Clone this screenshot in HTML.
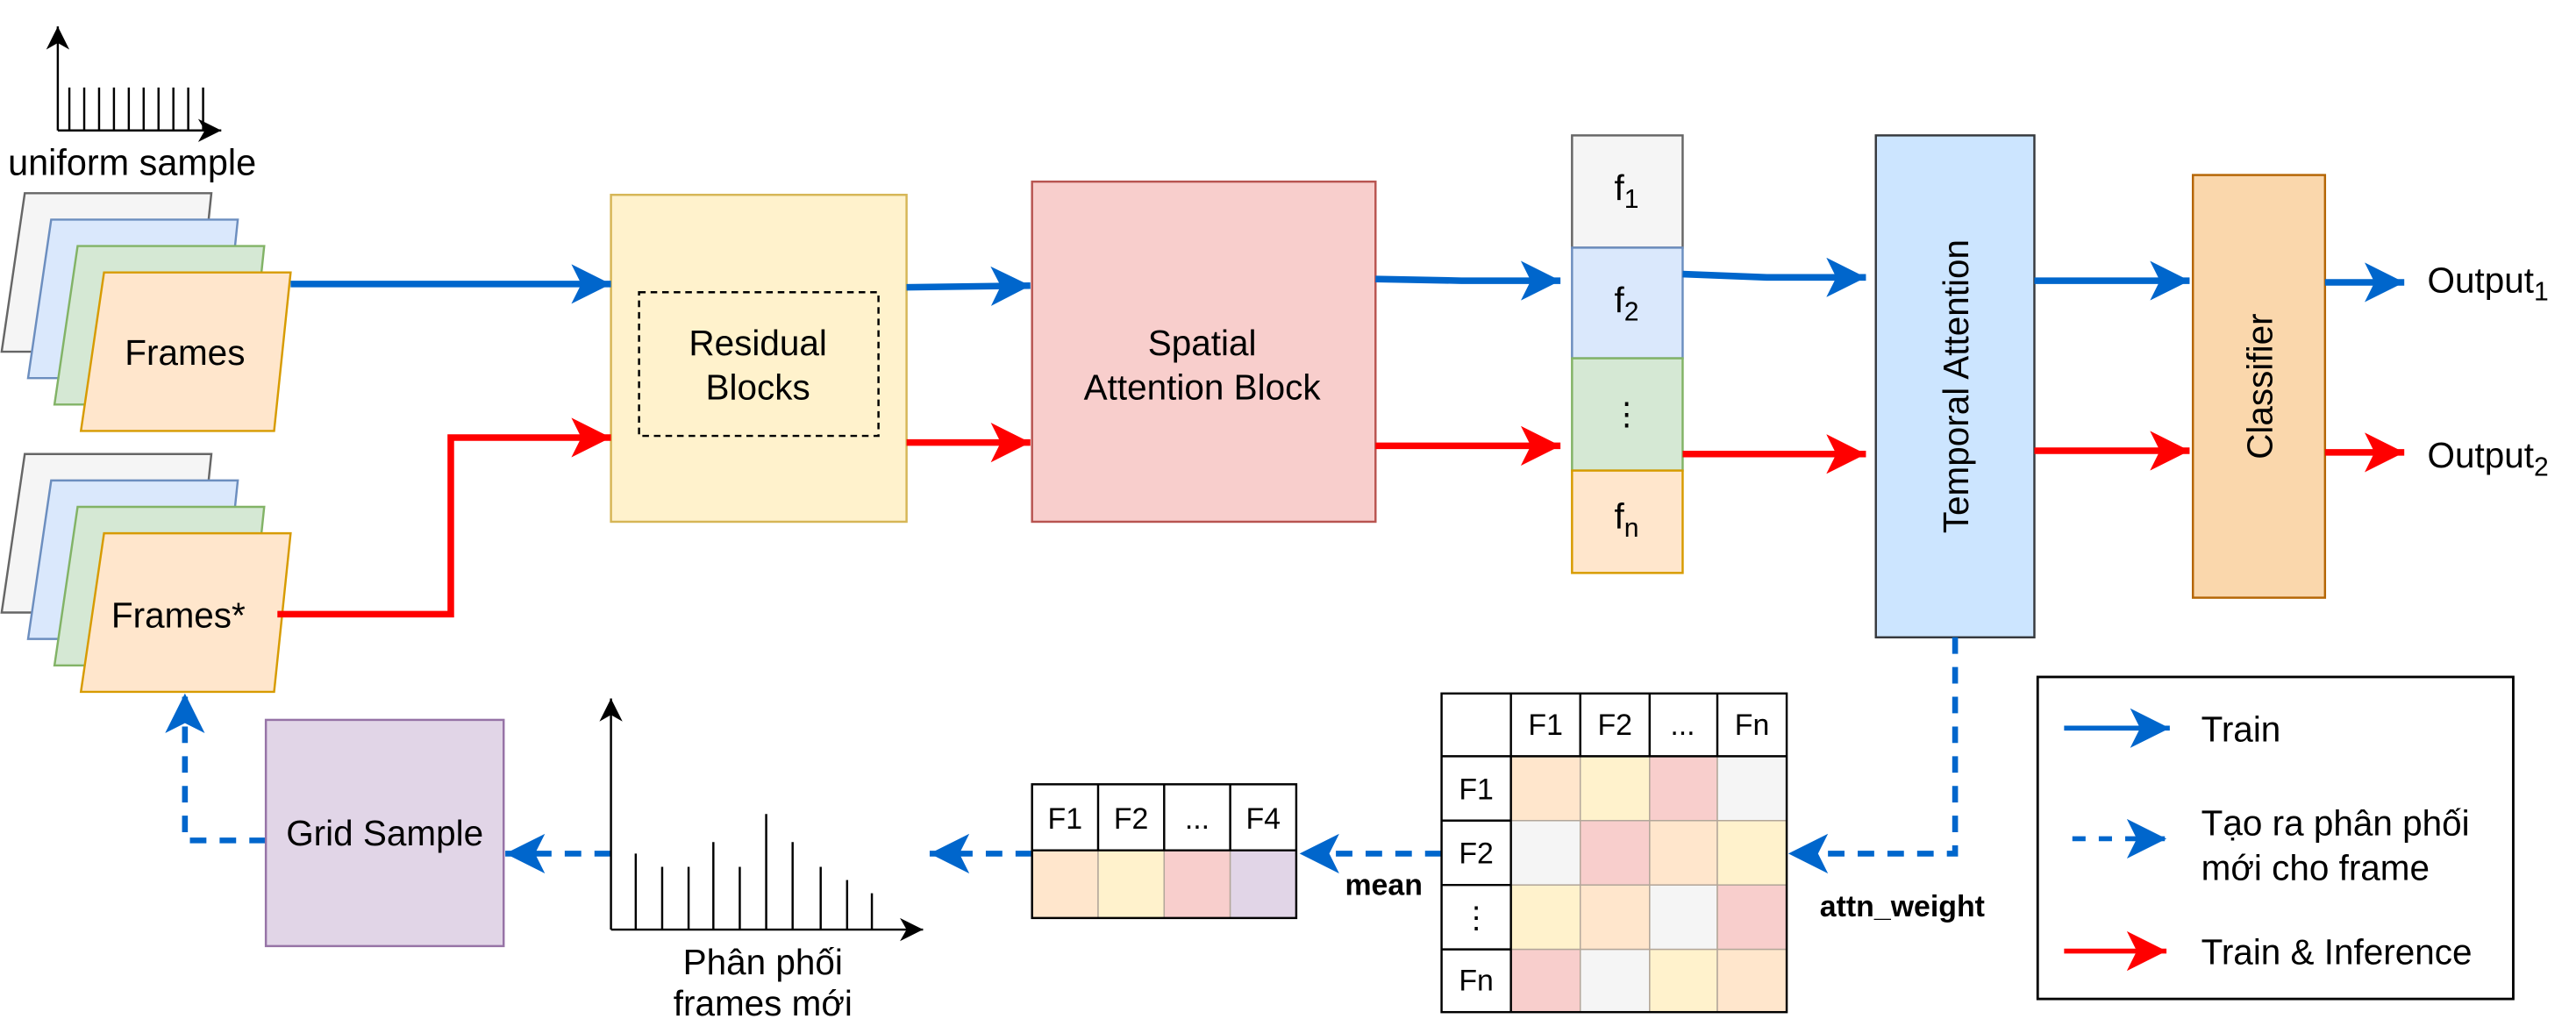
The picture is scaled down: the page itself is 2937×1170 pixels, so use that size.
<!DOCTYPE html>
<html><head><meta charset="utf-8"><style>
html,body{margin:0;padding:0;background:#fff;width:2937px;height:1170px;overflow:hidden}
svg{display:block}
text{font-family:"Liberation Sans","Noto Sans CJK SC",sans-serif;fill:#000}
</style></head><body>
<svg width="2937" height="1170" viewBox="0 0 1560 621.4" preserveAspectRatio="none" xmlns="http://www.w3.org/2000/svg">
<defs>
<marker id="ab" markerUnits="userSpaceOnUse" markerWidth="30" markerHeight="30" refX="24" refY="12" orient="auto"><path d="M0,0 L24,12 L0,24 L6,12 Z" fill="#0066cc"/></marker>
<marker id="ar" markerUnits="userSpaceOnUse" markerWidth="30" markerHeight="30" refX="24" refY="12" orient="auto"><path d="M0,0 L24,12 L0,24 L6,12 Z" fill="#ff0000"/></marker>
<marker id="ak" markerUnits="userSpaceOnUse" markerWidth="20" markerHeight="20" refX="14" refY="7" orient="auto"><path d="M0,0 L14,7 L0,14 L4,7 Z" fill="#000"/></marker>
</defs>

<g stroke="#000" stroke-width="1.3">
<line x1="35" y1="79" x2="35" y2="16" marker-end="url(#ak)"/>
<line x1="35" y1="79" x2="134" y2="79" marker-end="url(#ak)"/>
<line x1="42" y1="53" x2="42" y2="79"/><line x1="51" y1="53" x2="51" y2="79"/><line x1="60" y1="53" x2="60" y2="79"/><line x1="69" y1="53" x2="69" y2="79"/><line x1="78" y1="53" x2="78" y2="79"/><line x1="87" y1="53" x2="87" y2="79"/><line x1="96" y1="53" x2="96" y2="79"/><line x1="105" y1="53" x2="105" y2="79"/><line x1="114" y1="53" x2="114" y2="79"/><line x1="123" y1="53" x2="123" y2="79"/>
</g>
<text x="80" y="106" font-size="22" text-anchor="middle">uniform sample</text>

<g stroke-width="1.3">
<polygon points="15,117 128,117 118,213 1,213" fill="#f5f5f5" stroke="#666"/>
<polygon points="31,133 144,133 134,229 17,229" fill="#dae8fc" stroke="#6c8ebf"/>
<polygon points="47,149 160,149 150,245 33,245" fill="#d5e8d4" stroke="#82b366"/>
<polygon points="63,165 176,165 166,261 49,261" fill="#ffe6cc" stroke="#d79b00"/>
<polygon points="15,275 128,275 118,371 1,371" fill="#f5f5f5" stroke="#666"/>
<polygon points="31,291 144,291 134,387 17,387" fill="#dae8fc" stroke="#6c8ebf"/>
<polygon points="47,307 160,307 150,403 33,403" fill="#d5e8d4" stroke="#82b366"/>
<polygon points="63,323 176,323 166,419 49,419" fill="#ffe6cc" stroke="#d79b00"/>
</g>
<text x="112" y="221" font-size="21.5" text-anchor="middle">Frames</text>
<text x="108" y="380" font-size="21.5" text-anchor="middle">Frames*</text>

<rect x="370" y="118" width="179" height="198" fill="#fff2cc" stroke="#d6b656" stroke-width="1.3"/>
<rect x="387" y="177" width="145" height="87" fill="none" stroke="#000" stroke-width="1.3" stroke-dasharray="4,3"/>
<text x="459" y="215" font-size="21.5" text-anchor="middle">Residual</text>
<text x="459" y="242" font-size="21.5" text-anchor="middle">Blocks</text>

<rect x="625" y="110" width="208" height="206" fill="#f8cecc" stroke="#b85450" stroke-width="1.3"/>
<text x="728" y="215" font-size="21.5" text-anchor="middle">Spatial</text>
<text x="728" y="242" font-size="21.5" text-anchor="middle">Attention Block</text>

<g stroke-width="1.3">
<rect x="952" y="82" width="67" height="68" fill="#f5f5f5" stroke="#666"/>
<rect x="952" y="150" width="67" height="67" fill="#dae8fc" stroke="#6c8ebf"/>
<rect x="952" y="217" width="67" height="68" fill="#d5e8d4" stroke="#82b366"/>
<rect x="952" y="285" width="67" height="62" fill="#ffe6cc" stroke="#d79b00"/>
</g>
<text x="985" y="121" font-size="21.5" text-anchor="middle" fill="#333">f<tspan font-size="16" dy="5">1</tspan></text>
<text x="985" y="189" font-size="21.5" text-anchor="middle">f<tspan font-size="16" dy="5">2</tspan></text>
<text x="985" y="257" font-size="19" text-anchor="middle">⋮</text>
<text x="985" y="320" font-size="21.5" text-anchor="middle">f<tspan font-size="16" dy="5">n</tspan></text>

<rect x="1136" y="82" width="96" height="304" fill="#cce5ff" stroke="#36393d" stroke-width="1.3"/>
<text transform="translate(1192,234) rotate(-90)" font-size="21.5" text-anchor="middle">Temporal Attention</text>

<rect x="1328" y="106" width="80" height="256" fill="#fad7ac" stroke="#b46504" stroke-width="1.3"/>
<text transform="translate(1376,234) rotate(-90)" font-size="21.5" text-anchor="middle">Classifier</text>

<text x="1470" y="177" font-size="21.5">Output<tspan font-size="16" dy="5">1</tspan></text>
<text x="1470" y="283" font-size="21.5">Output<tspan font-size="16" dy="5">2</tspan></text>

<g fill="none" stroke-width="4">
<line x1="176" y1="172" x2="370" y2="172" stroke="#0066cc" marker-end="url(#ab)"/>
<polyline points="168,372 273,372 273,265 370,265" stroke="#ff0000" marker-end="url(#ar)"/>
<line x1="549" y1="174" x2="624" y2="173" stroke="#0066cc" marker-end="url(#ab)"/>
<line x1="549" y1="268" x2="624" y2="268" stroke="#ff0000" marker-end="url(#ar)"/>
<polyline points="833,169 885,170 945,170" stroke="#0066cc" marker-end="url(#ab)"/>
<line x1="833" y1="270" x2="945" y2="270" stroke="#ff0000" marker-end="url(#ar)"/>
<polyline points="1019,166 1070,168 1130,168" stroke="#0066cc" marker-end="url(#ab)"/>
<line x1="1019" y1="275" x2="1130" y2="275" stroke="#ff0000" marker-end="url(#ar)"/>
<line x1="1232" y1="170" x2="1326" y2="170" stroke="#0066cc" marker-end="url(#ab)"/>
<line x1="1232" y1="273" x2="1326" y2="273" stroke="#ff0000" marker-end="url(#ar)"/>
<line x1="1408" y1="171" x2="1456" y2="171" stroke="#0066cc" marker-end="url(#ab)"/>
<line x1="1408" y1="274" x2="1456" y2="274" stroke="#ff0000" marker-end="url(#ar)"/>
</g>

<g fill="none" stroke="#0066cc" stroke-width="3.5" stroke-dasharray="10,8">
<polyline points="1184,386 1184,517 1083,517" marker-end="url(#ab)"/>
<line x1="873" y1="517" x2="787" y2="517" marker-end="url(#ab)"/>
<line x1="625" y1="517" x2="563" y2="517" marker-end="url(#ab)"/>
<line x1="370" y1="517" x2="306" y2="517" marker-end="url(#ab)"/>
<polyline points="161,509 112,509 112,420" marker-end="url(#ab)"/>
</g>

<text x="1152" y="555" font-size="18" font-weight="bold" text-anchor="middle">attn_weight</text>
<text x="838" y="542" font-size="18" font-weight="bold" text-anchor="middle">mean</text>

<g stroke="#b3a79a" stroke-width="0.8">
<rect x="915" y="458" width="42" height="39" fill="#ffe6cc"/><rect x="957" y="458" width="42" height="39" fill="#fff2cc"/><rect x="999" y="458" width="41" height="39" fill="#f8cecc"/><rect x="1040" y="458" width="42" height="39" fill="#f5f5f5"/>
<rect x="915" y="497" width="42" height="39" fill="#f5f5f5"/><rect x="957" y="497" width="42" height="39" fill="#f8cecc"/><rect x="999" y="497" width="41" height="39" fill="#ffe6cc"/><rect x="1040" y="497" width="42" height="39" fill="#fff2cc"/>
<rect x="915" y="536" width="42" height="39" fill="#fff2cc"/><rect x="957" y="536" width="42" height="39" fill="#ffe6cc"/><rect x="999" y="536" width="41" height="39" fill="#f5f5f5"/><rect x="1040" y="536" width="42" height="39" fill="#f8cecc"/>
<rect x="915" y="575" width="42" height="38" fill="#f8cecc"/><rect x="957" y="575" width="42" height="38" fill="#f5f5f5"/><rect x="999" y="575" width="41" height="38" fill="#fff2cc"/><rect x="1040" y="575" width="42" height="38" fill="#ffe6cc"/>
</g>
<g stroke="#000" stroke-width="1.3" fill="none">
<rect x="873" y="420" width="209" height="193"/>
<line x1="915" y1="420" x2="915" y2="613"/>
<line x1="957" y1="420" x2="957" y2="458"/><line x1="999" y1="420" x2="999" y2="458"/><line x1="1040" y1="420" x2="1040" y2="458"/>
<line x1="873" y1="458" x2="1082" y2="458"/>
<line x1="873" y1="497" x2="915" y2="497"/><line x1="873" y1="536" x2="915" y2="536"/><line x1="873" y1="575" x2="915" y2="575"/>
</g>
<g font-size="18" text-anchor="middle">
<text x="936" y="445">F1</text><text x="978" y="445">F2</text><text x="1019" y="445">...</text><text x="1061" y="445">Fn</text>
<text x="894" y="484">F1</text><text x="894" y="523">F2</text><text x="894" y="562">⋮</text><text x="894" y="600">Fn</text>
</g>

<g stroke="#b3a79a" stroke-width="0.8">
<rect x="625" y="515" width="40" height="41" fill="#ffe6cc"/><rect x="665" y="515" width="40" height="41" fill="#fff2cc"/><rect x="705" y="515" width="40" height="41" fill="#f8cecc"/><rect x="745" y="515" width="40" height="41" fill="#e1d5e7"/>
</g>
<g stroke="#000" stroke-width="1.3" fill="none">
<rect x="625" y="475" width="160" height="81"/>
<line x1="625" y1="515" x2="785" y2="515"/>
<line x1="665" y1="475" x2="665" y2="515"/><line x1="705" y1="475" x2="705" y2="515"/><line x1="745" y1="475" x2="745" y2="515"/>
</g>
<g font-size="18" text-anchor="middle">
<text x="645" y="502">F1</text><text x="685" y="502">F2</text><text x="725" y="502">...</text><text x="765" y="502">F4</text>
</g>

<g stroke="#000" stroke-width="1.3">
<line x1="370" y1="563" x2="370" y2="423" marker-end="url(#ak)"/>
<line x1="370" y1="563" x2="559" y2="563" marker-end="url(#ak)"/>
<line x1="385" y1="517" x2="385" y2="563"/><line x1="401" y1="525" x2="401" y2="563"/><line x1="417" y1="525" x2="417" y2="563"/><line x1="432" y1="510" x2="432" y2="563"/><line x1="448" y1="525" x2="448" y2="563"/><line x1="464" y1="493" x2="464" y2="563"/><line x1="480" y1="510" x2="480" y2="563"/><line x1="497" y1="525" x2="497" y2="563"/><line x1="513" y1="533" x2="513" y2="563"/><line x1="528" y1="541" x2="528" y2="563"/>
</g>
<text x="462" y="590" font-size="21.5" text-anchor="middle">Phân phối</text>
<text x="462" y="615" font-size="21.5" text-anchor="middle">frames mới</text>

<rect x="161" y="436" width="144" height="137" fill="#e1d5e7" stroke="#9673a6" stroke-width="1.3"/>
<text x="233" y="512" font-size="21.5" text-anchor="middle">Grid Sample</text>

<rect x="1234" y="410" width="288" height="195" fill="#fff" stroke="#000" stroke-width="1.5"/>
<line x1="1250" y1="441" x2="1314" y2="441" stroke="#0066cc" stroke-width="3" marker-end="url(#ab)"/>
<line x1="1255" y1="508" x2="1312" y2="508" stroke="#0066cc" stroke-width="3" stroke-dasharray="8,8" marker-end="url(#ab)"/>
<line x1="1250" y1="576" x2="1312" y2="576" stroke="#ff0000" stroke-width="3" marker-end="url(#ar)"/>
<text x="1333" y="449" font-size="21.5">Train</text>
<text x="1333" y="506" font-size="21.5">Tạo ra phân phối</text>
<text x="1333" y="533" font-size="21.5">mới cho frame</text>
<text x="1333" y="584" font-size="21.5">Train &amp; Inference</text>
</svg>
</body></html>
